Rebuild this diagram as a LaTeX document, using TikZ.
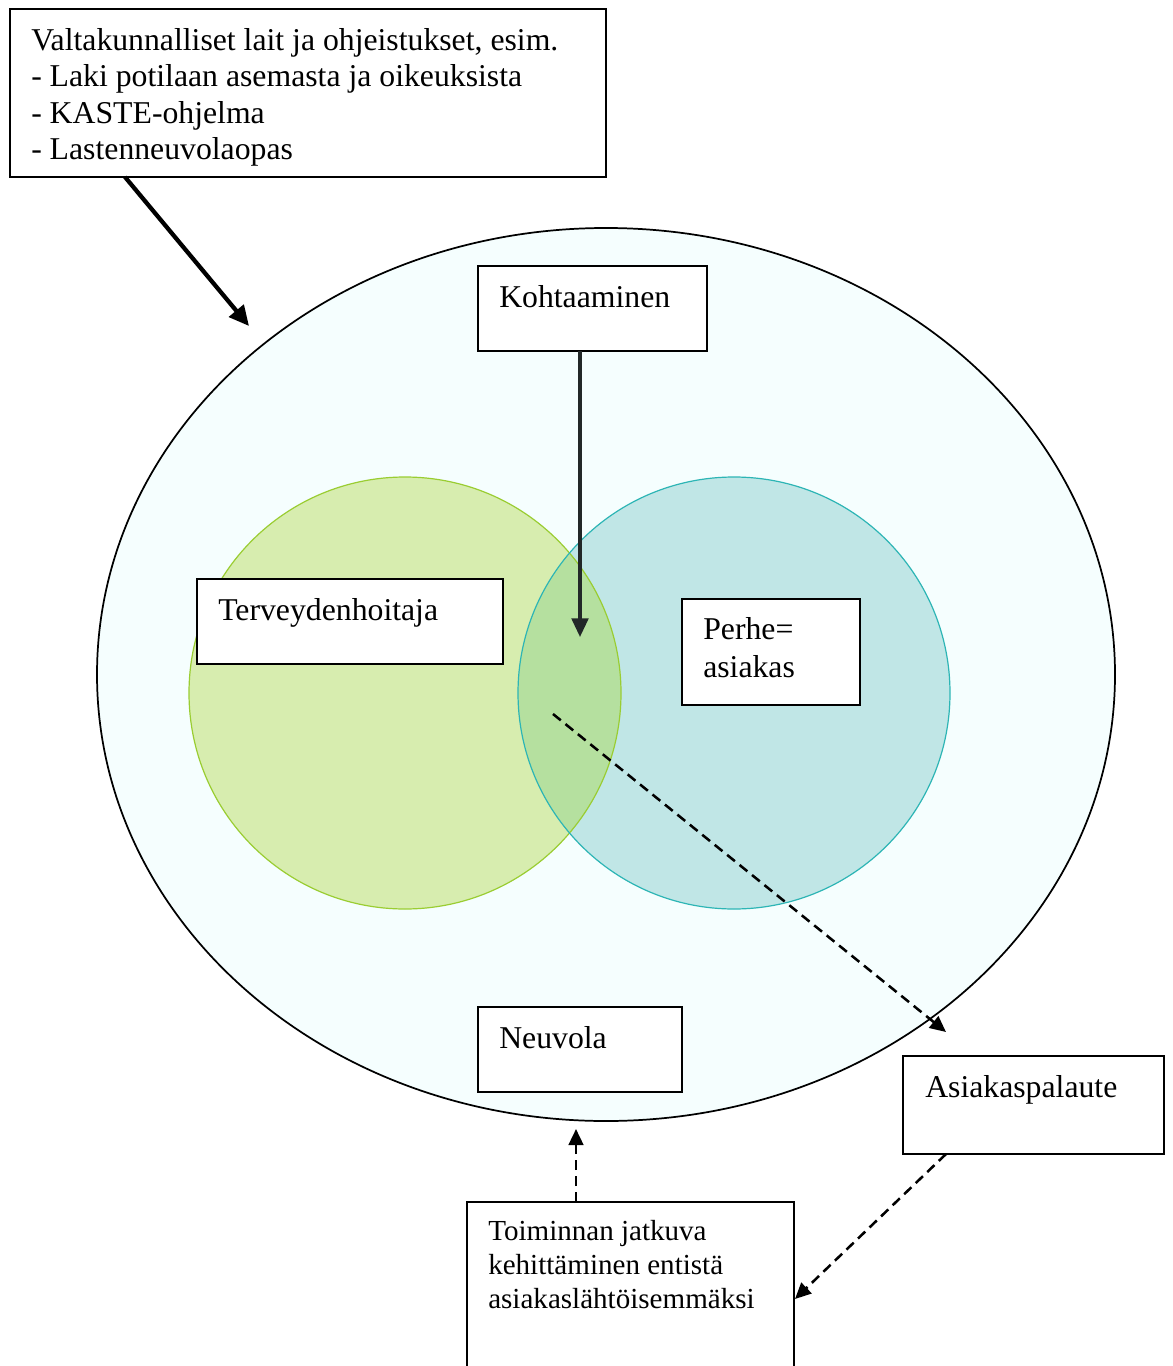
\documentclass[tikz,border=0pt]{standalone}
\usepackage{fontspec}
\setmainfont{Liberation Serif}
\usetikzlibrary{arrows.meta,shapes.geometric}
\definecolor{bgfill}{HTML}{F5FEFE}
\definecolor{gfill}{HTML}{D7EDAF}
\definecolor{gline}{HTML}{9ACD32}
\definecolor{bfill}{HTML}{C0E6E6}
\definecolor{bline}{HTML}{2DB5B5}
\definecolor{ofill}{HTML}{B5E09F}
\definecolor{darkarrow}{HTML}{222828}
\tikzset{
  box/.style={draw=black, line width=1.3pt, fill=white},
  bigtxt/.style={anchor=base west, font=\fontsize{23.8}{27.4}\selectfont, align=left, inner sep=0pt},
  smalltxt/.style={anchor=base west, font=\fontsize{21.8}{25.5}\selectfont, align=left, inner sep=0pt},
  dasharrow/.style={line width=1.9pt, dash pattern=on 7.5pt off 4.5pt, -{Triangle[length=12pt,width=11pt]}},
}
\begin{document}
\begin{tikzpicture}[x=0.75pt,y=-0.75pt]
\useasboundingbox (0,0) rectangle (1173,1366);
% big ellipse
\node[draw=black, line width=1.3pt, fill=bgfill, ellipse, minimum width=763.5pt, minimum height=669.75pt, inner sep=0pt] (neuvolaellipse) at (606,674.5) {};
% circles
\fill[gfill] (405,693) circle[radius=216];
\fill[bfill] (734,693) circle[radius=216];
\begin{scope}
  \clip (405,693) circle[radius=216];
  \fill[ofill] (734,693) circle[radius=216];
\end{scope}
\draw[gline, line width=0.9pt] (405,693) circle[radius=216];
\draw[bline, line width=0.9pt] (734,693) circle[radius=216];
\coordinate (gcircle) at (405,693);
\coordinate (bcircle) at (734,693);

% top box
\draw[box] (10,9) rectangle (606,177);
\node[bigtxt] (laws) at (31,160) {Valtakunnalliset lait ja ohjeistukset, esim.\\- Laki potilaan asemasta ja oikeuksista\\- KASTE-ohjelma\\- Lastenneuvolaopas};
\coordinate (lawsout) at (125,177);
\coordinate (ellipsein) at (249,326);
\draw[line width=3.2pt, -{Triangle[length=15pt,width=14pt]}] (lawsout) -- (ellipsein);

% Kohtaaminen
\draw[box] (478,266) rectangle (707,351);
\node[bigtxt] (kohtaaminen) at (499,307) {Kohtaaminen};
\coordinate (kohtout) at (580,351);
\coordinate (overlap) at (580,637);
\draw[darkarrow, line width=2.4pt, -{Triangle[length=14pt,width=12.5pt]}] (kohtout) -- (overlap);

% Terveydenhoitaja
\draw[box] (197,579) rectangle (503,664);
\node[bigtxt] (terveyden) at (218,620) {Terveydenhoitaja};

% Perhe
\draw[box] (682,599) rectangle (860,705);
\node[bigtxt, font=\fontsize{23.8}{28.5}\selectfont] (perhe) at (703,677) {Perhe=\\asiakas};

% Neuvola
\draw[box] (478,1007) rectangle (682,1092);
\node[bigtxt] (neuvola) at (499,1048) {Neuvola};

% Asiakaspalaute
\draw[box] (903,1056) rectangle (1164,1154);
\node[bigtxt] (palaute) at (925,1097) {Asiakaspalaute};

% bottom box
\draw[box] (467,1380) -- (467,1202) -- (794,1202) -- (794,1380);
\node[smalltxt] (kehitys) at (488,1308) {Toiminnan jatkuva\\kehittäminen entistä\\asiakaslähtöisemmäksi};

% dashed arrows
\coordinate (overlapstart) at (553,714);
\coordinate (palautein) at (946,1032);
\draw[dasharrow] (overlapstart) -- (palautein);
\coordinate (palauteout) at (946,1154);
\coordinate (kehitysin) at (795,1299);
\draw[dasharrow] (palauteout) -- (kehitysin);
\coordinate (kehitysout) at (576,1202);
\coordinate (neuvolain) at (576,1129);
\draw[dasharrow] (kehitysout) -- (neuvolain);
\end{tikzpicture}
\end{document}
